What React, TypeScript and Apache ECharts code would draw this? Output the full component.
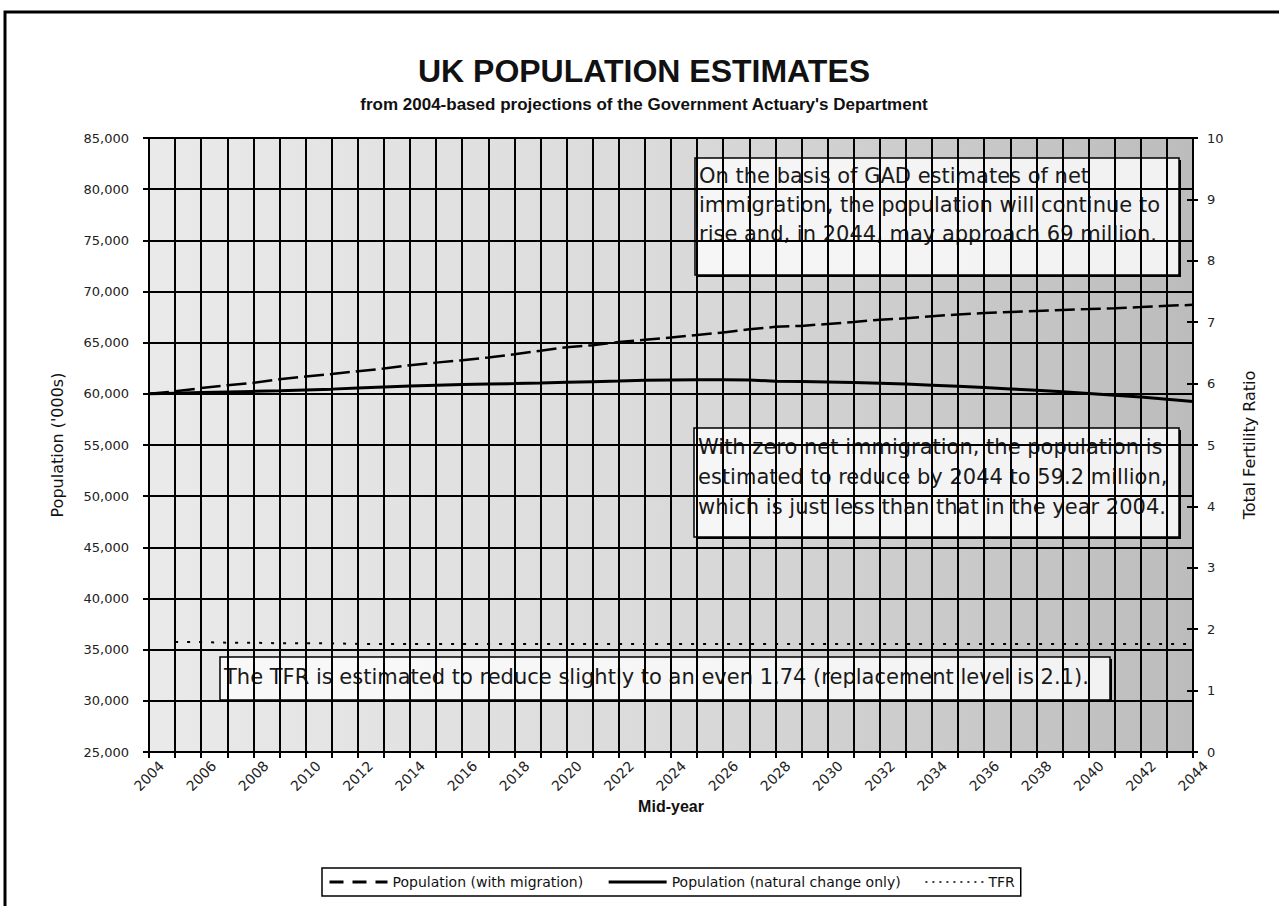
import React, { useEffect, useRef } from 'react';
import * as echarts from 'echarts';

const years = [
  '2004', '2005', '2006', '2007', '2008', '2009', '2010', '2011', '2012', '2013',
  '2014', '2015', '2016', '2017', '2018', '2019', '2020', '2021', '2022', '2023',
  '2024', '2025', '2026', '2027', '2028', '2029', '2030', '2031', '2032', '2033',
  '2034', '2035', '2036', '2037', '2038', '2039', '2040', '2041', '2042', '2043', '2044',
];

const popWithMigration = [
  60000, 60250, 60560, 60840, 61070, 61420, 61690, 61930, 62210, 62470,
  62790, 63050, 63290, 63550, 63870, 64210, 64560, 64750, 65060, 65280,
  65500, 65760, 66000, 66300, 66550, 66640, 66830, 67020, 67250, 67380,
  67580, 67760, 67900, 68000, 68100, 68200, 68280, 68370, 68480, 68600, 68700,
];

const popNaturalChange = [
  60000, 60060, 60120, 60180, 60240, 60300, 60380, 60460, 60560, 60660,
  60760, 60850, 60920, 60960, 61000, 61060, 61130, 61190, 61250, 61320,
  61360, 61380, 61380, 61340, 61240, 61200, 61160, 61110, 61040, 60950,
  60850, 60740, 60620, 60480, 60340, 60200, 60040, 59870, 59690, 59480, 59250,
];

const tfr = [
  null, 1.79, 1.79, 1.78, 1.78, 1.77, 1.77, 1.77, 1.76, 1.76,
  1.76, 1.76, 1.76, 1.76, 1.76, 1.76, 1.76, 1.76, 1.76, 1.76,
  1.76, 1.76, 1.76, 1.76, 1.76, 1.76, 1.76, 1.76, 1.76, 1.76,
  1.76, 1.76, 1.76, 1.76, 1.76, 1.76, 1.76, 1.76, 1.76, 1.76, 1.76,
];

const seriesNames = ['Population (with migration)', 'Population (natural change only)', 'TFR'];

const noteMigration = [
  'On the basis of GAD estimates of net',
  'immigration, the population will continue to',
  'rise and, in 2044, may approach 69 million.',
];
const noteNatural = [
  'With zero net immigration, the population is',
  'estimated to reduce by 2044 to 59.2 million,',
  'which is just less than that in the year 2004.',
];
const noteTfr = ['The TFR is estimated to reduce slightly to an even 1.74 (replacement level is 2.1).'];

const FONT = 'DejaVu Sans';

const dashMigration = [20, 6];
const dashTfr = [3, 9];

function noteBox(x: number, y: number, w: number, h: number, lines: string[], firstY: number, lineH: number) {
  const children: any[] = [
    {
      type: 'rect',
      shape: { x, y, width: w, height: h },
      style: { fill: 'rgba(252,252,252,0.84)', stroke: '#000', lineWidth: 1.5 },
    },
    {
      type: 'polyline',
      shape: { points: [[x + w + 1, y + 2], [x + w + 1, y + h + 1], [x + 2, y + h + 1]] },
      style: { stroke: '#000', lineWidth: 2, fill: 'none' },
    },
  ];
  lines.forEach((t, i) => {
    children.push({
      type: 'text',
      style: {
        text: t,
        x: x + 4,
        y: firstY + i * lineH,
        fontSize: 21,
        fontFamily: FONT,
        fill: '#1a1a1a',
        align: 'left',
        verticalAlign: 'middle',
      },
    });
  });
  return { type: 'group', z: 100, children };
}

export default function App() {
  const ref = useRef<HTMLDivElement>(null);

  useEffect(() => {
    if (!ref.current) return;
    const chart = echarts.init(ref.current, null, { renderer: 'svg' });
    const option: any = {
      animation: false,
      backgroundColor: '#fff',
      grid: {
        left: 149,
        right: 86,
        top: 138,
        bottom: 154,
        show: true,
        borderColor: '#000',
        borderWidth: 2,
        backgroundColor: new echarts.graphic.LinearGradient(0, 0, 1, 0, [
          { offset: 0, color: '#eaeaea' },
          { offset: 0.5, color: '#dadada' },
          { offset: 1, color: '#bcbcbc' },
        ]),
      },
      legend: {
        left: 322,
        top: 868,
        data: [
          { name: seriesNames[0], lineStyle: { width: 3, type: [14, 9], color: '#000' } },
          { name: seriesNames[1], lineStyle: { width: 3, type: 'solid', color: '#000' } },
          { name: seriesNames[2], lineStyle: { width: 1.5, type: [2, 5], color: '#000' } },
        ],
        itemWidth: 58,
        itemHeight: 14,
        itemGap: 24,
        padding: [7, 6, 7, 6],
        borderColor: '#000',
        borderWidth: 1.5,
        backgroundColor: '#fff',
        itemStyle: { opacity: 0 },
        textStyle: { fontFamily: FONT, fontSize: 14, color: '#111' },
      },
      xAxis: {
        type: 'category',
        data: years,
        boundaryGap: false,
        name: 'Mid-year',
        nameLocation: 'middle',
        nameGap: 46,
        nameMoveOverlap: false,
        nameTextStyle: { fontFamily: 'Liberation Sans', fontWeight: 'bold', fontSize: 16, color: '#111' },
        axisLine: { lineStyle: { color: '#000', width: 2 } },
        axisTick: { show: true, interval: 0, length: 6, lineStyle: { color: '#000', width: 2 } },
        axisLabel: {
          interval: 1,
          rotate: 45,
          margin: 24,
          align: 'center',
          verticalAlign: 'middle',
          fontFamily: FONT,
          fontSize: 14,
          color: '#222',
        },
        splitLine: { show: true, interval: 0, lineStyle: { color: '#000', width: 2 } },
      },
      yAxis: [
        {
          type: 'value',
          min: 25000,
          max: 85000,
          interval: 5000,
          name: "Population ('000s)",
          nameLocation: 'middle',
          nameGap: 84,
          nameRotate: 90,
          nameTextStyle: { fontFamily: FONT, fontSize: 16, color: '#111' },
          axisLine: { show: true, lineStyle: { color: '#000', width: 2 } },
          axisTick: { show: true, length: 6, lineStyle: { color: '#000', width: 2 } },
          axisLabel: {
            margin: 20,
            fontFamily: FONT,
            fontSize: 13,
            color: '#222',
            formatter: (v: number) => v.toLocaleString('en-US'),
          },
          splitLine: { show: true, lineStyle: { color: '#000', width: 2 } },
        },
        {
          type: 'value',
          min: 0,
          max: 10,
          interval: 1,
          position: 'right',
          name: 'Total Fertility Ratio',
          nameLocation: 'middle',
          nameGap: 48,
          nameRotate: 90,
          nameTextStyle: { fontFamily: FONT, fontSize: 16, color: '#111' },
          axisLine: { show: true, lineStyle: { color: '#000', width: 2 } },
          axisTick: { show: true, length: 5, lineStyle: { color: '#000', width: 2 } },
          axisLabel: { margin: 14, fontFamily: FONT, fontSize: 13, color: '#222' },
          splitLine: { show: false },
        },
        {
          type: 'value',
          min: 0,
          max: 10,
          interval: 1,
          position: 'right',
          offset: 0,
          axisLine: { show: false },
          axisTick: { show: true, inside: true, length: 6, lineStyle: { color: '#000', width: 2 } },
          axisLabel: { show: false },
          splitLine: { show: false },
        },
      ],
      series: [
        {
          name: seriesNames[0],
          type: 'line',
          data: popWithMigration,
          symbol: 'none',
          yAxisIndex: 0,
          z: 5,
          lineStyle: { color: '#000', width: 2.5, type: dashMigration },
          itemStyle: { color: '#000' },
        },
        {
          name: seriesNames[1],
          type: 'line',
          data: popNaturalChange,
          symbol: 'none',
          yAxisIndex: 0,
          z: 5,
          lineStyle: { color: '#000', width: 3, type: 'solid' },
          itemStyle: { color: '#000' },
        },
        {
          name: seriesNames[2],
          type: 'line',
          data: tfr,
          symbol: 'none',
          yAxisIndex: 1,
          z: 5,
          lineStyle: { color: '#000', width: 2, type: dashTfr },
          itemStyle: { color: '#000' },
        },
      ],
      graphic: [
        {
          type: 'polyline',
          z: 200,
          shape: { points: [[5, 906], [5, 12], [1279, 12]] },
          style: { stroke: '#000', lineWidth: 3, fill: 'none' },
        },
        {
          type: 'text',
          z: 200,
          style: {
            text: 'UK POPULATION ESTIMATES',
            x: 644,
            y: 71,
            align: 'center',
            verticalAlign: 'middle',
            fontFamily: 'Liberation Sans',
            fontWeight: 'bold',
            fontSize: 32,
            fill: '#111',
          },
        },
        {
          type: 'text',
          z: 200,
          style: {
            text: "from 2004-based projections of the Government Actuary's Department",
            x: 644,
            y: 104,
            align: 'center',
            verticalAlign: 'middle',
            fontFamily: 'Liberation Sans',
            fontWeight: 'bold',
            fontSize: 17,
            fill: '#111',
          },
        },
        noteBox(695, 158, 484, 117, noteMigration, 176, 29),
        noteBox(694, 428, 485, 109, noteNatural, 447, 30),
        noteBox(220, 657, 890, 43, noteTfr, 677, 30),
      ],
    };
    chart.setOption(option);
    return () => chart.dispose();
  }, []);

  return (
    <div
      ref={ref}
      style={{ position: 'absolute', left: 0, top: 0, width: 1279, height: 906, background: '#fff' }}
    />
  );
}
